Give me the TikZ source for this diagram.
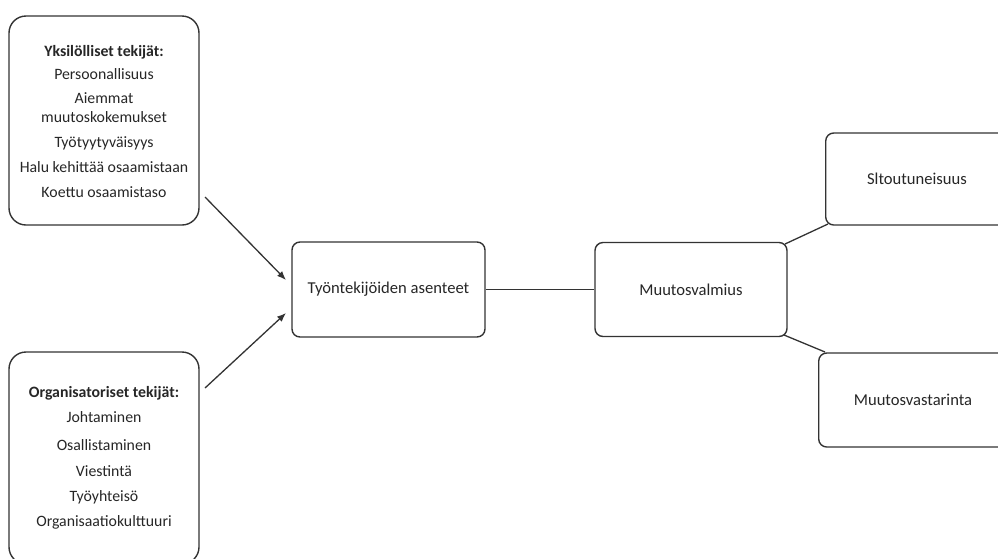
\documentclass[tikz,border=0pt]{standalone}
\usepackage{fontspec}
\setmainfont{Carlito}
\usetikzlibrary{arrows.meta}
\definecolor{edge}{HTML}{333333}
\definecolor{txt}{HTML}{262626}
\tikzset{
  box/.style={draw=edge, line width=1.4pt, rounded corners=8pt, inner sep=0pt, text=txt, font=\fontsize{16.6}{19}\selectfont, align=center},
  bigbox/.style={box, rounded corners=17pt, minimum width=190pt},
  lbl/.style={text=txt, font=\fontsize{15.8}{19}\selectfont, align=center, anchor=base, inner sep=0pt},
  rlbl/.style={text=txt, font=\fontsize{16.6}{19}\selectfont, inner sep=0pt},
  conn/.style={draw=edge, line width=1.3pt},
  arr/.style={conn, -{Latex[length=9pt,width=7pt]}}
}
\begin{document}
\begin{tikzpicture}[x=1pt,y=-1pt]
\useasboundingbox (0,0) rectangle (998,558);
\clip (0,0) rectangle (998,558);
\node[bigbox, minimum height=209pt] (ind) at (104,120.5) {};
\node[lbl] (indt) at (104,197)
 {\textbf{Yksilölliset tekijät:}\\[4pt]Persoonallisuus\\[5pt]Aiemmat\\[0pt]muutoskokemukset\\[6pt]Työtyytyväisyys\\[6pt]Halu kehittää osaamistaan\\[6pt]Koettu osaamistaso};
\node[bigbox, minimum height=212pt] (org) at (104,458) {};
\node[lbl] (orgt) at (104,526)
 {\textbf{Organisatoriset tekijät:}\\[6pt]Johtaminen\\[9pt]Osallistaminen\\[7pt]Viestintä\\[6pt]Työyhteisö\\[6pt]Organisaatiokulttuuri};
\node[box, minimum width=193pt, minimum height=95pt] (att) at (388.5,289.5) {Työntekijöiden asenteet};
\node[box, minimum width=192pt, minimum height=94pt] (ready) at (691,289.5) {Muutosvalmius};
\node[box, minimum width=240pt, minimum height=92pt, anchor=west] (commit) at (825,179) {};
\node[rlbl] (committ) at (917,179) {Sltoutuneisuus};
\node[box, minimum width=240pt, minimum height=94pt, anchor=west] (resist) at (818,400) {};
\node[rlbl] (resistt) at (913,400) {Muutosvastarinta};
\coordinate (a1s) at (205,197);
\coordinate (a1e) at (286,280);
\coordinate (a2s) at (205,388);
\coordinate (a2e) at (286,313);
\draw[arr] (a1s) -- (a1e);
\draw[arr] (a2s) -- (a2e);
\draw[conn] (att.east) -- (ready.west);
\coordinate (c1s) at (785,244);
\coordinate (c1e) at (828,224);
\coordinate (c2s) at (784,335);
\coordinate (c2e) at (825,352);
\draw[conn] (c1s) -- (c1e);
\draw[conn] (c2s) -- (c2e);
\end{tikzpicture}
\end{document}
